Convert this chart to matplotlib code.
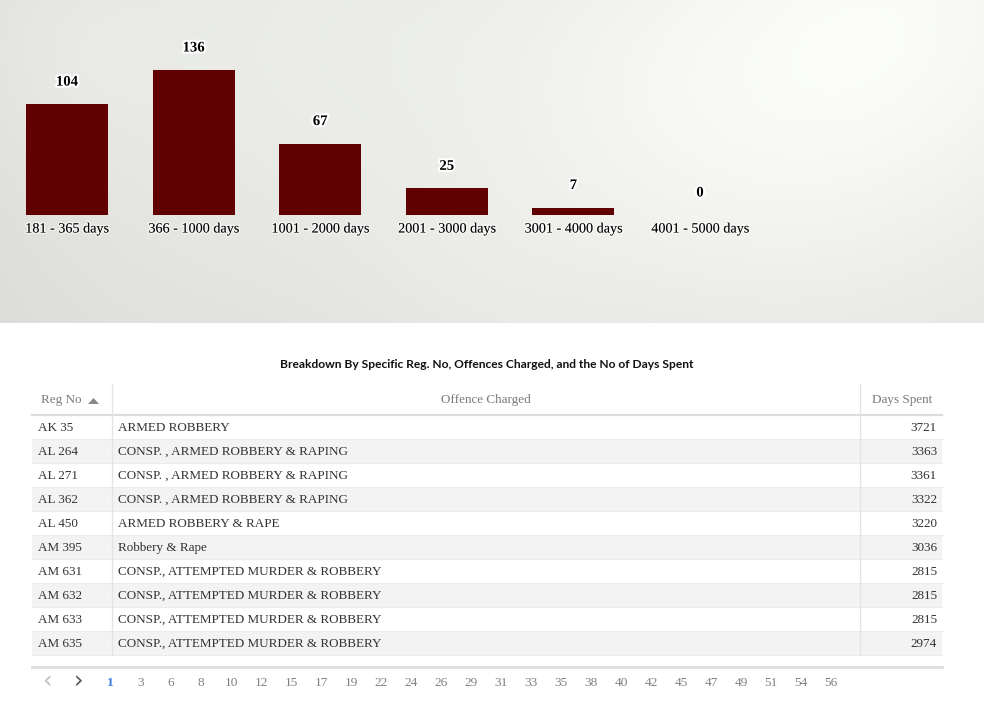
import numpy as np
import matplotlib
matplotlib.use("Agg")
import matplotlib.pyplot as plt
from matplotlib.patches import Rectangle, Polygon
import matplotlib.patheffects as pe

# ---------------- data ----------------
categories = ["181 - 365 days", "366 - 1000 days", "1001 - 2000 days",
              "2001 - 3000 days", "3001 - 4000 days", "4001 - 5000 days"]
counts = [104, 136, 67, 25, 7, 0]

table_title = "Breakdown By Specific Reg. No, Offences Charged, and the No of Days Spent"
headers = ["Reg No", "Offence Charged", "Days Spent"]
reg_no = ["AK 35", "AL 264", "AL 271", "AL 362", "AL 450",
          "AM 395", "AM 631", "AM 632", "AM 633", "AM 635"]
offences = ["ARMED ROBBERY",
            "CONSP. , ARMED ROBBERY & RAPING",
            "CONSP. , ARMED ROBBERY & RAPING",
            "CONSP. , ARMED ROBBERY & RAPING",
            "ARMED ROBBERY & RAPE",
            "Robbery & Rape",
            "CONSP., ATTEMPTED MURDER & ROBBERY",
            "CONSP., ATTEMPTED MURDER & ROBBERY",
            "CONSP., ATTEMPTED MURDER & ROBBERY",
            "CONSP., ATTEMPTED MURDER & ROBBERY"]
days_spent = [3721, 3363, 3361, 3322, 3220, 3036, 2815, 2815, 2815, 2974]
pages = ["1", "3", "6", "8", "10", "12", "15", "17", "19", "22", "24", "26",
         "29", "31", "33", "35", "38", "40", "42", "45", "47", "49", "51", "54", "56"]

W, H = 984, 706
SERIF = ["Liberation Serif", "DejaVu Serif"]
FS = 9.45

fig = plt.figure(figsize=(W / 100, H / 100), dpi=100)
fig.patch.set_facecolor("white")

# ---------------- background / table axes (pixel coords) ----------------
bg = fig.add_axes([0, 0, 1, 1])
bg.set_axis_off()

# soft cloudy backdrop (smooth deterministic shading)
yy, xx = np.mgrid[0:323, 0:984]
base = 0.865 + 0.05 * (xx / 984.0) - 0.015 * (yy / 323.0)
blobs = [(900, 20, 150, 0.07), (640, 70, 130, 0.04), (330, 30, 160, 0.045),
         (120, 260, 170, 0.03), (760, 230, 150, 0.035), (480, 300, 120, 0.03),
         (60, 40, 90, 0.03)]
for cx, cy, r, a in blobs:
    base += a * np.exp(-(((xx - cx) ** 2 + (yy - cy) ** 2) / (2 * r ** 2)))
base = np.clip(base, 0, 1)
img = np.dstack([base * 0.99, base * 0.995, base * 0.975])
img = np.clip(img, 0, 1)
bg.imshow(img, extent=(0, 984, 323, 0), origin="upper", aspect="auto",
          interpolation="bilinear", zorder=0)
bg.set_xlim(0, W)
bg.set_ylim(H, 0)

# table title
bg.text(487, 364, table_title, ha="center", va="center", fontsize=8.65,
        fontweight="bold", family=["Lato", "DejaVu Sans"], color="#111111")

tx0, tx1 = 32, 942
col1, col2 = 112, 860
head_top, head_bot = 384, 415
row_h = 24
line_c = "#e3e3e3"

# header
hy = (head_top + head_bot) / 2 + 0.5
bg.text(41, hy, headers[0], ha="left", va="center", fontsize=FS,
        family=SERIF, color="#7a7a7a")
bg.add_patch(Polygon([[88, 404], [99, 404], [93.5, 398]], closed=True,
                     facecolor="#888888", edgecolor="none"))
bg.text((col1 + col2) / 2, hy, headers[1], ha="center", va="center",
        fontsize=FS, family=SERIF, color="#7a7a7a")
bg.text(932, hy, headers[2], ha="right", va="center", fontsize=FS,
        family=SERIF, color="#7a7a7a")

# rows
for i, (r, o, d) in enumerate(zip(reg_no, offences, days_spent)):
    y0 = head_bot + i * row_h
    fc = "white" if i % 2 == 0 else "#f3f3f3"
    bg.add_patch(Rectangle((tx0, y0), tx1 - tx0, row_h, facecolor=fc,
                           edgecolor="none", zorder=1))
    bg.plot([tx0, tx1], [y0 + row_h, y0 + row_h], color="#ececec", lw=0.8, zorder=2)
    yc = y0 + row_h / 2 + 1.2
    bg.text(38, yc, r, ha="left", va="center", fontsize=FS, family=SERIF,
            color="#333333", zorder=3)
    bg.text(118, yc, o, ha="left", va="center", fontsize=FS, family=SERIF,
            color="#333333", zorder=3)
    bg.text(937, yc, str(d), ha="right", va="center", fontsize=FS,
            family=SERIF, color="#333333", zorder=3)

rows_bot = head_bot + len(reg_no) * row_h
# header bottom line
bg.plot([tx0, tx1], [head_bot, head_bot], color="#dcdcdc", lw=1.6, zorder=4)
# column separators
for cx in (col1, col2):
    bg.plot([cx, cx], [head_top, rows_bot], color=line_c, lw=0.9, zorder=4)
# footer line
bg.plot([tx0, tx1], [667, 667], color="#dddddd", lw=2.0, zorder=4)

# pagination
py = 683
bg.text(47, py - 1, "\u2039", ha="center", va="center", fontsize=17,
        family=["DejaVu Sans"], color="#c0c0c0")
bg.text(79, py - 1, "\u203a", ha="center", va="center", fontsize=17,
        family=["DejaVu Sans"], color="#555555")
bg.text(110, py, pages[0], ha="center", va="center", fontsize=9.6,
        fontweight="bold", family=SERIF, color="#3a7be0")
for k, p in enumerate(pages[1:]):
    bg.text(141 + 30 * k, py, p, ha="center", va="center", fontsize=9.6,
            family=SERIF, color="#808080")

# ---------------- bar chart ----------------
step = 126.6
left_px = 67 - step / 2
ax = fig.add_axes([left_px / W, (H - 215) / H, 6 * step / W, 185 / H])
ax.patch.set_alpha(0)
ax.set_axis_off()
x = np.arange(len(categories))
ax.bar(x, counts, width=82 / step, color="#600000", zorder=2)
ax.set_xlim(-0.5, len(categories) - 0.5)
ax.set_ylim(0, 185 / 1.066)

halo = [pe.withStroke(linewidth=3, foreground="white")]
for xi, c, lab in zip(x, counts, categories):
    ax.annotate(str(c), (xi, c), xytext=(0, 22), textcoords="offset pixels",
                ha="center", va="center", fontsize=10.6, fontweight="bold",
                family=SERIF, color="black", path_effects=halo,
                annotation_clip=False)
    ax.annotate(lab, (xi, 0), xytext=(0, -14), textcoords="offset pixels",
                ha="center", va="center", fontsize=10.2, family=SERIF,
                color="black",
                path_effects=[pe.withStroke(linewidth=2, foreground=(1, 1, 1, 0.6))],
                annotation_clip=False)

fig.savefig("out.png", dpi=100, facecolor="white")
